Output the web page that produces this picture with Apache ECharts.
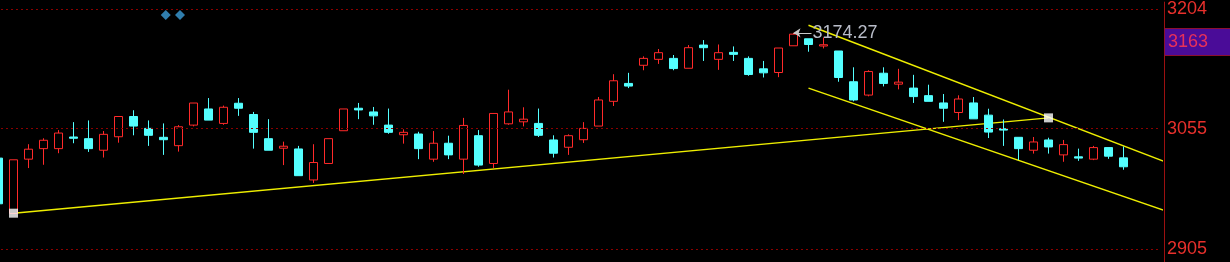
<!DOCTYPE html>
<html><head><meta charset="utf-8">
<script src="https://cdn.jsdelivr.net/npm/echarts@6/dist/echarts.min.js"></script>
<style>html,body{margin:0;padding:0;background:#000;overflow:hidden;width:1230px;height:262px;position:relative;}
#c{position:absolute;left:-9px;top:0;width:1239px;height:262px;}</style>
</head><body><div id="c"></div>
<script>
// K-line values, one entry per candle (index 0 is the partly hidden first candle)
const opens = [3018.3,2949.4,3017.0,3030.1,3030.1,3044.6,3042.5,3028.1,3044.9,3070.1,
  3055.3,3044.2,3033.8,3059.4,3079.5,3061.5,3086.6,3072.6,3042.5,3030.6,
  3029.7,2991.1,3011.6,3052.4,3080.4,3075.8,3059.4,3047.4,3048.3,3017.0,
  3036.8,3017.0,3046.2,3011.6,3061.0,3063.5,3061.5,3040.9,3031.8,3041.2,
  3058.2,3089.0,3111.3,3133.9,3141.3,3142.5,3130.2,3159.1,3141.3,3150.0,
  3142.5,3129.5,3124.9,3158.2,3166.9,3157.9,3151.7,3113.4,3096.8,3124.0,
  3110.4,3105.5,3096.1,3087.0,3075.1,3087.0,3071.8,3054.8,3044.2,3028.1,
  3040.9,3022.3,3019.9,3017.0,3031.4,3018.6];
const closes = [2961.4,3016.2,3029.4,3040.5,3049.5,3043.0,3030.1,3047.9,3070.1,3058.2,
  3046.7,3041.2,3057.3,3086.9,3065.6,3081.6,3080.4,3050.4,3028.1,3033.1,
  2996.4,3012.8,3042.5,3079.5,3078.3,3070.9,3050.4,3050.4,3030.1,3036.8,
  3022.3,3059.0,3009.6,3073.9,3075.8,3066.8,3046.7,3024.4,3046.2,3055.3,
  3090.7,3114.6,3108.0,3142.5,3149.6,3129.8,3155.8,3155.8,3149.6,3147.5,
  3122.4,3124.5,3155.4,3172.7,3159.8,3159.5,3118.7,3090.7,3126.1,3111.3,
  3112.9,3094.9,3089.0,3080.4,3091.9,3067.2,3050.7,3053.2,3030.1,3038.4,
  3032.2,3035.1,3018.3,3031.4,3020.7,3007.5];
const lows = [2961.4,2949.4,3005.9,3010.0,3024.4,3036.8,3026.0,3019.0,3037.5,3046.7,
  3033.5,3022.3,3026.4,3057.8,3065.6,3059.8,3070.9,3030.1,3028.1,3009.6,
  2996.4,2987.4,3011.6,3052.4,3066.8,3059.8,3048.6,3036.3,3017.0,3013.7,
  3017.0,2998.5,3007.5,3005.9,3059.8,3057.8,3044.6,3019.0,3022.3,3037.2,
  3058.2,3083.2,3105.5,3127.7,3135.6,3127.7,3130.2,3139.3,3128.2,3139.3,
  3120.8,3118.7,3119.1,3158.2,3150.8,3154.9,3113.4,3089.0,3095.2,3107.6,
  3103.9,3087.0,3089.0,3063.5,3065.6,3067.2,3043.3,3033.5,3015.8,3023.9,
  3023.9,3013.7,3014.9,3015.8,3017.4,3003.8];
const highs = [3018.3,3016.2,3035.6,3043.0,3053.2,3063.1,3065.2,3052.0,3070.1,3077.9,
  3065.2,3061.5,3059.4,3086.9,3093.1,3083.7,3093.1,3075.8,3066.8,3038.8,
  3033.5,3035.6,3042.5,3079.5,3087.0,3082.0,3080.0,3054.1,3051.1,3052.0,
  3046.2,3068.4,3053.2,3073.9,3103.5,3081.6,3080.0,3046.7,3047.9,3063.1,
  3094.4,3122.8,3124.5,3145.0,3154.2,3146.7,3159.1,3165.3,3159.8,3157.4,
  3145.0,3139.3,3155.4,3174.27,3166.9,3168.5,3151.7,3131.4,3127.7,3131.4,
  3129.5,3122.0,3109.7,3098.1,3096.5,3094.4,3079.8,3066.4,3044.2,3044.6,
  3043.7,3040.9,3030.1,3033.5,3031.4,3032.8];

const tickValues = [2905, 3055, 3204];
const priceTag = 3163;
const peakIndex = 53;
const peakValue = 3174.27;
// drawn lines as [candle index, price]
const trendLine = [[1, 2949.7], [70, 3068.4]];
const channelUpper = [[54, 3183.8], [78, 3012.0]];
const channelLower = [[54, 3105.5], [78, 2951.3]];
const anchorPoints = [[1, 2949.7], [70, 3068.4]];
const eventMarks = [[11.15, 3196.5], [12.1, 3196.5]];
const slotCount = 78;
const categories = [];
for (let i = 0; i < slotCount; i++) categories.push('K' + (i + 1));

const kData = opens.map((o, i) => [o, closes[i], lows[i], highs[i]]);

const RED = '#ff2a2a', CYAN = '#54ffff', YEL = '#eeee00';
const chart = echarts.init(document.getElementById('c'), null, {renderer: 'canvas'});
chart.setOption({
  animation: false,
  backgroundColor: '#000',
  grid: {left: 0, right: 69, top: 0, bottom: 0, containLabel: false},
  xAxis: [
    {type: 'category', data: categories, show: false, boundaryGap: true},
    {type: 'value', min: -0.5, max: slotCount - 0.5, show: false, axisLine: {onZero: false}}
  ],
  yAxis: {
    type: 'value', position: 'right', offset: 3, min: 2888.9, max: 3212.6, scale: true,
    axisLine: {show: true, onZero: false, lineStyle: {color: '#9c1010', width: 1}},
    axisTick: {show: false},
    splitLine: {show: false},
    axisLabel: {
      customValues: tickValues, color: '#e8302c', fontSize: 18,
      fontFamily: 'Liberation Sans', margin: 3,
      formatter: v => String(Math.round(v))
    }
  },
  series: [
    {
      type: 'line', xAxisIndex: 1, data: trendLine, symbol: 'none', z: 1, clip: true,
      lineStyle: {color: YEL, width: 1.5},
      markLine: {
        silent: true, symbolSize: 7,
        data: [[
          {coord: [peakIndex, peakValue], symbol: 'arrow'},
          {coord: [peakIndex + 1.2, peakValue], symbol: 'none'}
        ]],
        lineStyle: {color: '#c8c8c8', width: 1, type: 'solid'},
        label: {show: true, position: 'end', distance: 1, formatter: String(peakValue),
          color: '#b8bcc8', fontSize: 18, fontFamily: 'Liberation Sans'}
      }
    },
    {type: 'line', xAxisIndex: 1, data: channelUpper, symbol: 'none', z: 1, clip: true,
      lineStyle: {color: YEL, width: 1.5}},
    {type: 'line', xAxisIndex: 1, data: channelLower, symbol: 'none', z: 1, clip: true,
      lineStyle: {color: YEL, width: 1.5}},
    {
      type: 'candlestick', xAxisIndex: 0, data: kData, barWidth: 9, z: 3,
      itemStyle: {color: '#000', color0: CYAN, borderColor: RED, borderColor0: CYAN, borderWidth: 1},
      markLine: {
        silent: true, symbol: 'none',
        data: tickValues.map(v => ({yAxis: v})),
        lineStyle: {color: '#8c0000', width: 1, type: [2, 3]},
        label: {show: false}
      }
    },
    {
      type: 'line', xAxisIndex: 1, data: [], symbol: 'none', z: 6,
      markLine: {
        silent: true, symbol: 'none',
        data: [{yAxis: priceTag}],
        lineStyle: {color: 'rgba(0,0,0,0)', width: 0},
        label: {show: true, position: 'end', distance: 4, formatter: String(priceTag),
          color: '#e8305a', fontSize: 18, fontFamily: 'Liberation Sans',
          backgroundColor: '#4a0c98', borderColor: '#8c1030', borderWidth: 1,
          padding: [4, 22, 4, 3]}
      }
    },
    {type: 'scatter', xAxisIndex: 1, data: anchorPoints, symbol: 'rect', symbolSize: 9, z: 5,
      itemStyle: {color: '#ffffff'}},
    {type: 'scatter', xAxisIndex: 1, data: eventMarks, symbol: 'diamond', symbolSize: 10, z: 5,
      itemStyle: {color: '#3c9ed8'}}
  ]
});
</script>
</body></html>
